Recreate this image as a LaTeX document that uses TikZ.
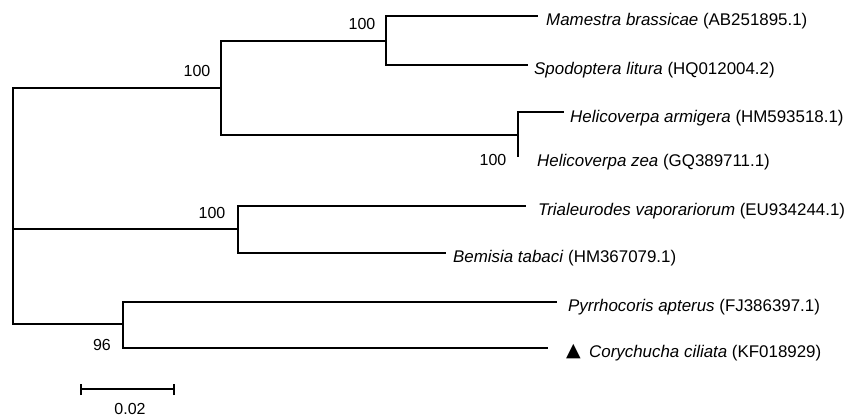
\documentclass[tikz,border=0pt]{standalone}
\usepackage{fontspec}
\setmainfont{Liberation Sans}
\newfontfamily\symfont{DejaVu Sans}
\begin{document}
\begin{tikzpicture}[x=1pt,y=-1pt,
  branch/.style={line width=1.7pt,line cap=rect},
  taxon/.style={anchor=base west,inner sep=0pt,font=\fontsize{16.9}{20}\selectfont},
  boot/.style={inner sep=0pt,font=\fontsize{16}{19}\selectfont},
]
\useasboundingbox (0,0) rectangle (859,419);

% internal nodes
\coordinate (root) at (13,229);
\coordinate (n1) at (221,88);
\coordinate (n2) at (386,41);
\coordinate (n3) at (518,135);
\coordinate (n4) at (238,229);
\coordinate (n5) at (123,324);

% branch tips
\coordinate (tA) at (537,16);
\coordinate (tB) at (527,65);
\coordinate (tC) at (563,112);
\coordinate (tD) at (518,156);
\coordinate (tE) at (525,206);
\coordinate (tF) at (445,253);
\coordinate (tG) at (556,302);
\coordinate (tH) at (547,348);

% tree
\draw[branch] (root) |- (n1);
\draw[branch] (root) |- (n5);
\draw[branch] (root) -- (n4);
\draw[branch] (n1) |- (n2);
\draw[branch] (n1) |- (n3);
\draw[branch] (n2) |- (tA);
\draw[branch] (n2) |- (tB);
\draw[branch] (n3) |- (tC);
\draw[branch] (n3) -- (tD);
\draw[branch] (n4) |- (tE);
\draw[branch] (n4) |- (tF);
\draw[branch] (n5) |- (tG);
\draw[branch] (n5) |- (tH);

% taxa
\node[taxon] (lA) at (546,26) {\textit{Mamestra brassicae} (AB251895.1)};
\node[taxon] (lB) at (534,75) {\textit{Spodoptera litura} (HQ012004.2)};
\node[taxon] (lC) at (570,123) {\textit{Helicoverpa armigera} (HM593518.1)};
\node[taxon] (lD) at (537,167) {\textit{Helicoverpa zea} (GQ389711.1)};
\node[taxon] (lE) at (538,216) {\textit{Trialeurodes vaporariorum} (EU934244.1)};
\node[taxon] (lF) at (453,263) {\textit{Bemisia tabaci} (HM367079.1)};
\node[taxon] (lG) at (568,312) {\textit{Pyrrhocoris apterus} (FJ386397.1)};
\node[inner sep=0pt,anchor=base west,font=\fontsize{19}{22}\symfont] (mk) at (566,356) {▲};
\node[taxon] (lH) at (589,358) {\textit{Corychucha ciliata} (KF018929)};

% bootstrap values
\node[boot] (b1) at (362,24) {100};
\node[boot] (b2) at (197,71) {100};
\node[boot] (b3) at (493,160) {100};
\node[boot] (b4) at (212,213) {100};
\node[boot] (b5) at (102,345) {96};

% scale bar
\coordinate (s1) at (81,389);
\coordinate (s2) at (174,389);
\draw[line width=1.5pt] (s1) -- (s2);
\draw[line width=1.5pt] ([yshift=-6pt]s1) -- ([yshift=5pt]s1);
\draw[line width=1.5pt] ([yshift=-6pt]s2) -- ([yshift=5pt]s2);
\node[boot] (sl) at (130,409) {0.02};
\end{tikzpicture}
\end{document}
